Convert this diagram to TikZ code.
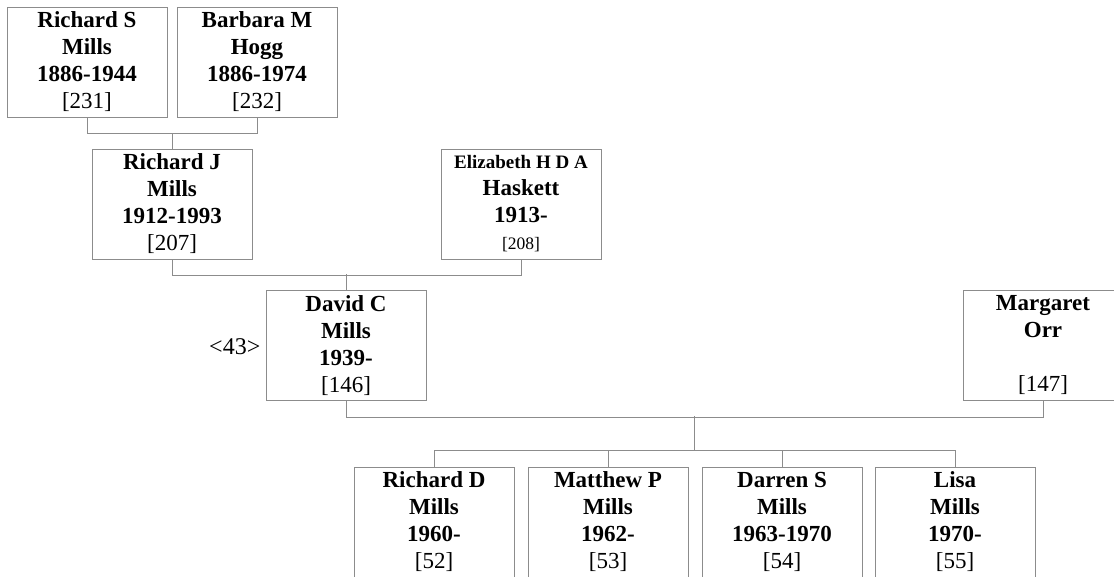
\documentclass[tikz,border=0pt]{standalone}
\usepackage{fontspec}
\setmainfont{Liberation Serif}
\usetikzlibrary{calc}
\definecolor{linegray}{RGB}{140,140,140}
\newcommand{\personid}[1]{{\mdseries[#1]}}
\tikzset{
  person/.style={draw=linegray, line width=1pt, minimum width=160pt,
    minimum height=110pt, inner sep=0pt, align=center,
    font=\bfseries\fontsize{23}{27}\selectfont},
  link/.style={draw=linegray, line width=1pt}
}
\begin{document}
\begin{tikzpicture}[x=1pt,y=-1pt]
    \useasboundingbox (0,0) rectangle (1114,576);
    % grandparents
    \node[person] (rsm) at (87,62) {Richard S\\Mills\\1886-1944\\\personid{231}};
    \node[person] (bmh) at (257,62) {Barbara M\\Hogg\\1886-1974\\\personid{232}};
    % parents
    \node[person] (rjm) at (172,204) {Richard J\\Mills\\1912-1993\\\personid{207}};
    \node[person] (ehd) at (521,204) {{\fontsize{19}{27}\selectfont Elizabeth H D A}\\Haskett\\1913-\\{\fontsize{17.5}{27}\selectfont\personid{208}}};
    \node[person] (dcm) at (346,345.5) {David C\\Mills\\1939-\\\personid{146}};
    \node[person] (mor) at (1043,345.5) {Margaret\\Orr\\\mbox{}\\\personid{147}};
    \node[anchor=base east, inner sep=0pt, font=\fontsize{24}{27}\selectfont] (gen) at ($(dcm.west)+(-5,9)$) {<43>};
    % children
    \node[person] (rdm) at (434,522) {Richard D\\Mills\\1960-\\\personid{52}};
    \node[person] (mpm) at (608,522) {Matthew P\\Mills\\1962-\\\personid{53}};
    \node[person] (dsm) at (782,522) {Darren S\\Mills\\1963-1970\\\personid{54}};
    \node[person] (lim) at (955,522) {Lisa\\Mills\\1970-\\\personid{55}};
    \draw[link] (rsm.south) -- ++(0,16) -| (bmh.south);
    \draw[link] (rjm.north) -- ++(0,-16);
    \draw[link] (rjm.south) -- ++(0,16) -| (ehd.south);
    \draw[link] (dcm.north) -- ++(0,-16);
    \draw[link] (dcm.south) -- ++(0,16) -| (mor.south);
    \draw[link] (rdm.north) -- ++(0,-16) -| (lim.north);
    \draw[link] (mpm.north) -- ++(0,-16);
    \draw[link] (dsm.north) -- ++(0,-16);
    \draw[link] ($(rdm.north)!0.5!(lim.north)+(0,-16)$) -- ++(0,-35);
\end{tikzpicture}
\end{document}
